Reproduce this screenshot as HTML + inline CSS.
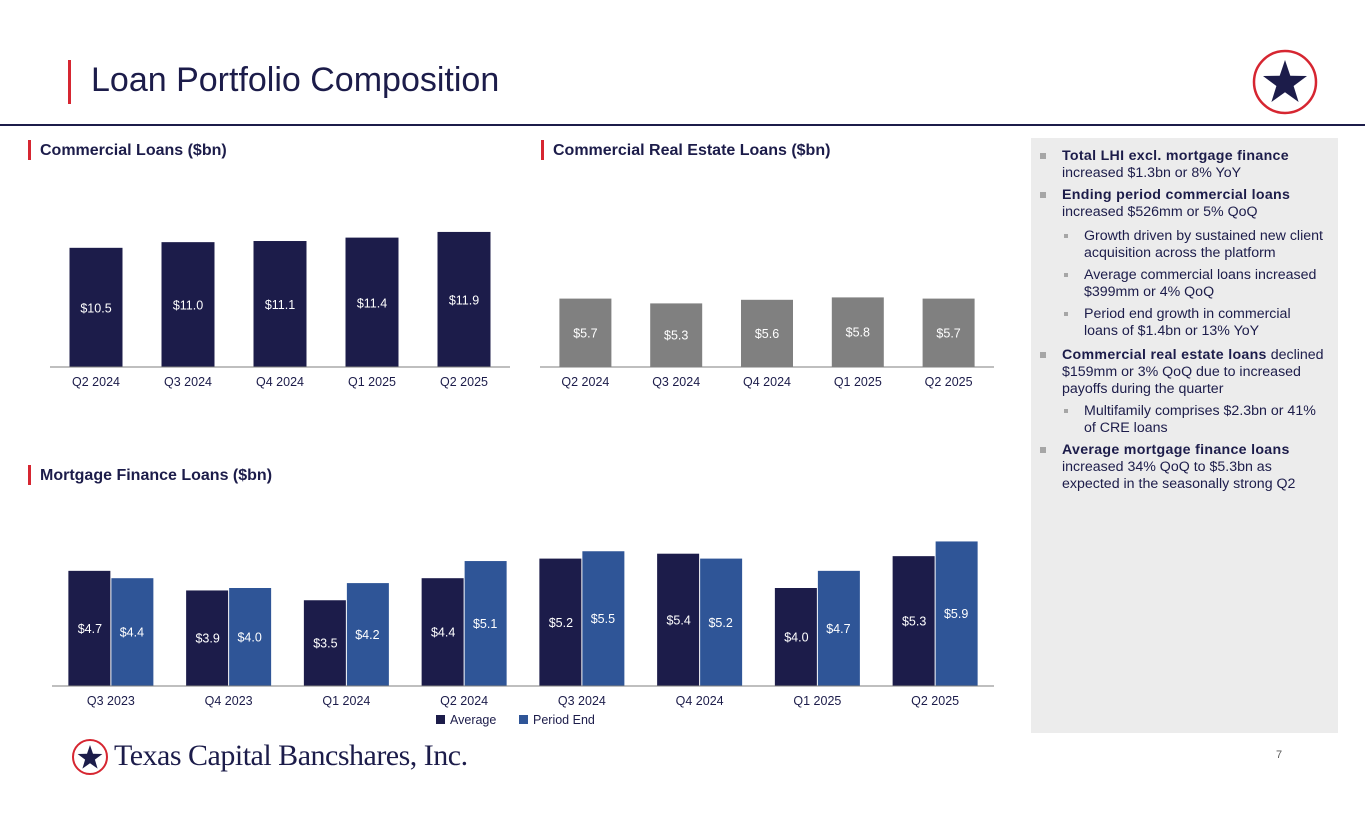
<!DOCTYPE html>
<html><head><meta charset="utf-8"><style>
body{margin:0;width:1365px;height:829px;background:#fff;font-family:"Liberation Sans",sans-serif;position:relative;overflow:hidden}
.abs{position:absolute}
.h{position:absolute;font-weight:bold;font-size:16px;color:#1c1c4a}
.rb{position:absolute;width:3px;background:#d62631}
#panel{left:1031px;top:138px;width:307px;height:595px;background:#ececec}
#panel ul{margin:0;padding:0;list-style:none;position:absolute;left:31px;top:10px;width:276px;font-size:14.2px;color:#1c1c4a;line-height:17px;white-space:nowrap}
#panel li{position:relative;margin-bottom:5px}
#panel li b{letter-spacing:0.3px}
#panel li:before{content:"";position:absolute;left:-22px;top:5px;width:6px;height:6px;background:#a6a6a6}
#panel li.s{margin-left:22px}
#panel li.s:before{width:4px;height:4px;top:6px;left:-20px}
</style></head><body>
<div class="rb" style="left:68px;top:60px;height:44px"></div>
<div class="abs" style="left:91px;top:61px;font-size:34px;color:#1c1c4a">Loan Portfolio Composition</div>
<div class="abs" style="left:0;top:124px;width:1365px;height:2px;background:#1c1c4a"></div>
<svg class="abs" style="left:1252px;top:49px" width="66" height="66" viewBox="0 0 66 66"><circle cx="33" cy="33" r="31" fill="#fff" stroke="#d62631" stroke-width="2.5"/><polygon fill="#1c1c4a" points="33,11 38.3,26.7 55,27 41.6,37 46.6,53 33,43.3 19.4,53 24.4,37 11,27 27.7,26.7"/></svg>

<div class="rb" style="left:28px;top:140px;height:20px"></div>
<div class="h" style="left:40px;top:142px">Commercial Loans ($bn)</div>
<div class="rb" style="left:541px;top:140px;height:20px"></div>
<div class="h" style="left:553px;top:142px">Commercial Real Estate Loans ($bn)</div>
<div class="rb" style="left:28px;top:465px;height:20px"></div>
<div class="h" style="left:40px;top:467px">Mortgage Finance Loans ($bn)</div>

<svg id="chart" class="abs" style="left:0;top:0" width="1365" height="829"></svg>

<div id="panel" class="abs"><ul>
<li><b>Total LHI excl. mortgage finance</b><br>increased $1.3bn or 8% YoY</li>
<li><b>Ending period commercial loans</b><br>increased $526mm or 5% QoQ</li>
<li class="s" style="margin-top:7px">Growth driven by sustained new client<br>acquisition across the platform</li>
<li class="s">Average commercial loans increased<br>$399mm or 4% QoQ</li>
<li class="s">Period end growth in commercial<br>loans of $1.4bn or 13% YoY</li>
<li style="margin-top:7px"><b>Commercial real estate loans</b> declined<br>$159mm or 3% QoQ due to increased<br>payoffs during the quarter</li>
<li class="s">Multifamily comprises $2.3bn or 41%<br>of CRE loans</li>
<li><b>Average mortgage finance loans</b><br>increased 34% QoQ to $5.3bn as<br>expected in the seasonally strong Q2</li>
</ul></div>

<svg class="abs" style="left:71px;top:738px" width="38" height="38"><circle cx="19" cy="19" r="17" fill="#fff" stroke="#d62631" stroke-width="2"/><polygon fill="#1c1c4a" points="19,7 22,15.8 31.4,16 23.9,21.6 26.6,30.6 19,25.2 11.4,30.6 14.1,21.6 6.6,16 16,15.8"/></svg>
<div class="abs" style="left:114px;top:739px;font-family:'Liberation Serif',serif;font-size:30px;color:#1c1c4a;letter-spacing:-0.5px">Texas Capital Bancshares, Inc.</div>
<div class="abs" style="left:1276px;top:749px;font-size:11px;color:#595959">7</div>

<script>
const comCats=["Q2 2024","Q3 2024","Q4 2024","Q1 2025","Q2 2025"];
const comVals=[10.5,11.0,11.1,11.4,11.9];
const comLabels=["$10.5","$11.0","$11.1","$11.4","$11.9"];
const creCats=["Q2 2024","Q3 2024","Q4 2024","Q1 2025","Q2 2025"];
const creVals=[5.7,5.3,5.6,5.8,5.7];
const creLabels=["$5.7","$5.3","$5.6","$5.8","$5.7"];
const mfCats=["Q3 2023","Q4 2023","Q1 2024","Q2 2024","Q3 2024","Q4 2024","Q1 2025","Q2 2025"];
const mfAvg=[4.7,3.9,3.5,4.4,5.2,5.4,4.0,5.3];
const mfEnd=[4.4,4.0,4.2,5.1,5.5,5.2,4.7,5.9];
const legendNames=["Average","Period End"];

const svg=document.getElementById('chart');
const NS="http://www.w3.org/2000/svg";
function mk(t,a,p){const e=document.createElementNS(NS,t);for(const k in a)e.setAttribute(k,a[k]);(p||svg).appendChild(e);return e;}
function txt(x,y,s,fill,size,anchor){const t=mk('text',{x:x,y:y,fill:fill,'font-size':size,'text-anchor':anchor||'middle','font-family':'Liberation Sans, sans-serif'});t.textContent=s;return t;}

// commercial
(function(){
 const x0=50,x1=510,base=367,step=(x1-x0)/comCats.length,w=53;
 const y=v=>base-v*11.35;
 comCats.forEach((c,i)=>{
  const cx=x0+step*(i+0.5);
  const r=mk('rect',{x:cx-w/2,y:y(comVals[i]),width:w,height:base-y(comVals[i]),fill:'#1c1c4a'});
  
  
  const l=txt(cx,(y(comVals[i])+base)/2+5,comLabels[i],'#fff',12.5);
  
  
  const t=txt(cx,386,c,'#1c1c4a',12.5);
  
  
 });
 const a=mk('line',{x1:x0,x2:x1,y1:base,y2:base,stroke:'#7f7f7f','stroke-width':1});
 
 
})();
// CRE
(function(){
 const x0=540,x1=994,base=367,step=(x1-x0)/creCats.length,w=52;
 const y=v=>base-v*12;
 creCats.forEach((c,i)=>{
  const cx=x0+step*(i+0.5);
  const r=mk('rect',{x:cx-w/2,y:y(creVals[i]),width:w,height:base-y(creVals[i]),fill:'#808080'});
  
  
  const l=txt(cx,(y(creVals[i])+base)/2+4.5,creLabels[i],'#fff',12.5);
  
  
  const t=txt(cx,386,c,'#1c1c4a',12.5);
  
  
 });
 const a=mk('line',{x1:x0,x2:x1,y1:base,y2:base,stroke:'#7f7f7f','stroke-width':1});
 
 
})();
// mortgage
(function(){
 const x0=52,x1=994,base=686,step=(x1-x0)/mfCats.length,w=42;
 const y=v=>base-v*24.5;
 mfCats.forEach((c,i)=>{
  const cx=x0+step*(i+0.5);
  const r1=mk('rect',{x:cx-w-0.5,y:y(mfAvg[i]),width:w,height:base-y(mfAvg[i]),fill:'#1c1c4a'});
  
  
  const r2=mk('rect',{x:cx+0.5,y:y(mfEnd[i]),width:w,height:base-y(mfEnd[i]),fill:'#2f5597'});
  
  
  const l1=txt(cx-w/2,(y(mfAvg[i])+base)/2+4.5,'$'+mfAvg[i].toFixed(1),'#fff',12.5);
  
  
  const l2=txt(cx+w/2,(y(mfEnd[i])+base)/2+4.5,'$'+mfEnd[i].toFixed(1),'#fff',12.5);
  
  
  const t=txt(cx,705,c,'#1c1c4a',12.5);
  
  
 });
 const a=mk('line',{x1:x0,x2:x1,y1:base,y2:base,stroke:'#7f7f7f','stroke-width':1});
 
 
 const cols=['#1c1c4a','#2f5597'],lx=[436,519];
 legendNames.forEach((n,i)=>{
  const s=mk('rect',{x:lx[i],y:715,width:9,height:9,fill:cols[i]});
  
  
  const t=txt(lx[i]+14,724,n,'#1c1c4a',12.5,'start');
  
  
 });
})();
</script>
</body></html>
